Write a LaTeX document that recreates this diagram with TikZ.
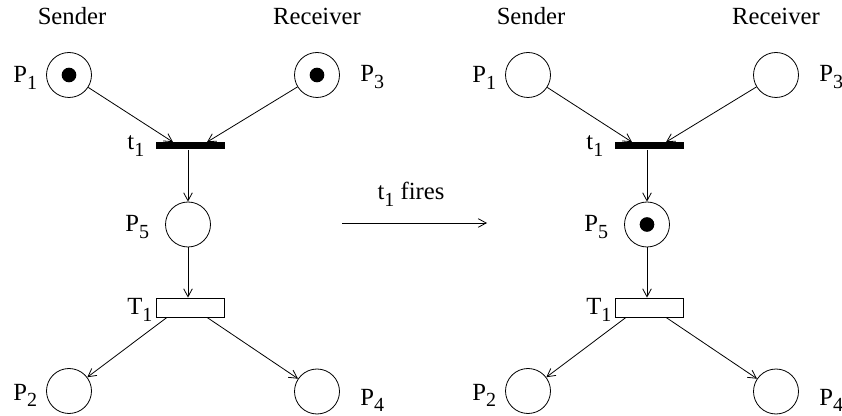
\documentclass[tikz,border=0pt]{standalone}
\usepackage{fontspec}
\setmainfont{Liberation Serif}
\usetikzlibrary{arrows.meta,positioning}
\newcommand{\ix}[1]{\raisebox{-5pt}{\fontsize{15}{15}\selectfont #1}}

\begin{document}
\begin{tikzpicture}[x=0.75pt, y=-0.75pt, line width=0.6pt,
    font=\fontsize{18.5}{22}\selectfont,
    place/.style={circle, draw, minimum size=33.75pt, inner sep=0pt},
    token/.style={circle, fill, minimum size=11pt, inner sep=0pt},
    bar/.style={fill, minimum width=51.75pt, minimum height=5.25pt, inner sep=0pt},
    trans/.style={draw, fill=white, minimum width=51pt, minimum height=14.25pt, inner sep=0pt},
    lbl/.style={anchor=base west, inner sep=0pt},
    arc/.style={-{Straight Barb[length=6pt, width=6.5pt]}}]
  \useasboundingbox (0,0) rectangle (842,416);
  % the same net twice: before and after firing
  \foreach \n/\dx in {L/0, R/459} {
    \begin{scope}[xshift=\dx*0.75pt]
      \node[anchor=base] (snd\n) at (72,25) {Sender};
      \node[anchor=base] (rcv\n) at (317,25) {Receiver};
      \node[place] (P1\n) at (69,75) {};
      \node[place] (P3\n) at (317,75) {};
      \node[bar]   (t1\n) at (190,146) {};
      \node[place] (P5\n) at (188,224.5) {};
      \node[trans] (T1\n) at (190,307.5) {};
      \node[place] (P2\n) at (69,391) {};
      \node[place] (P4\n) at (317,391.5) {};
      \node[lbl] (lP1\n) at (13,83) {P\ix{1}};
      \node[lbl] (lP3\n) at (360,82) {P\ix{3}};
      \node[lbl] (lt1\n) at (127,150) {t\ix{1}};
      \node[lbl] (lP5\n) at (125,232) {P\ix{5}};
      \node[lbl] (lT1\n) at (127,315) {T\ix{1}};
      \node[lbl] (lP2\n) at (13,400) {P\ix{2}};
      \node[lbl] (lP4\n) at (360,405) {P\ix{4}};
      \draw[arc] (P1\n) -- ([xshift=-12.75pt]t1\n.north);
      \draw[arc] (P3\n) -- ([xshift=12.75pt]t1\n.north);
      \draw[arc] (P5\n |- t1\n.south) -- (P5\n);
      \draw[arc] (P5\n) -- (P5\n |- T1\n.north);
      \draw[arc] ([xshift=-17.25pt]T1\n.south) -- (P2\n);
      \draw[arc] ([xshift=12.75pt]T1\n.south) -- (P4\n);
    \end{scope}
  }
  \foreach \p in {P1L, P3L, P5R}
    \node[token] (tok\p) at (\p) {};
  % firing
  \coordinate (fireA) at (342,223);
  \coordinate (fireB) at (487,223);
  \draw[arc] (fireA) -- (fireB);
  \node[anchor=base] (fires) at (411,200) {t\ix{1} fires};
\end{tikzpicture}
\end{document}
